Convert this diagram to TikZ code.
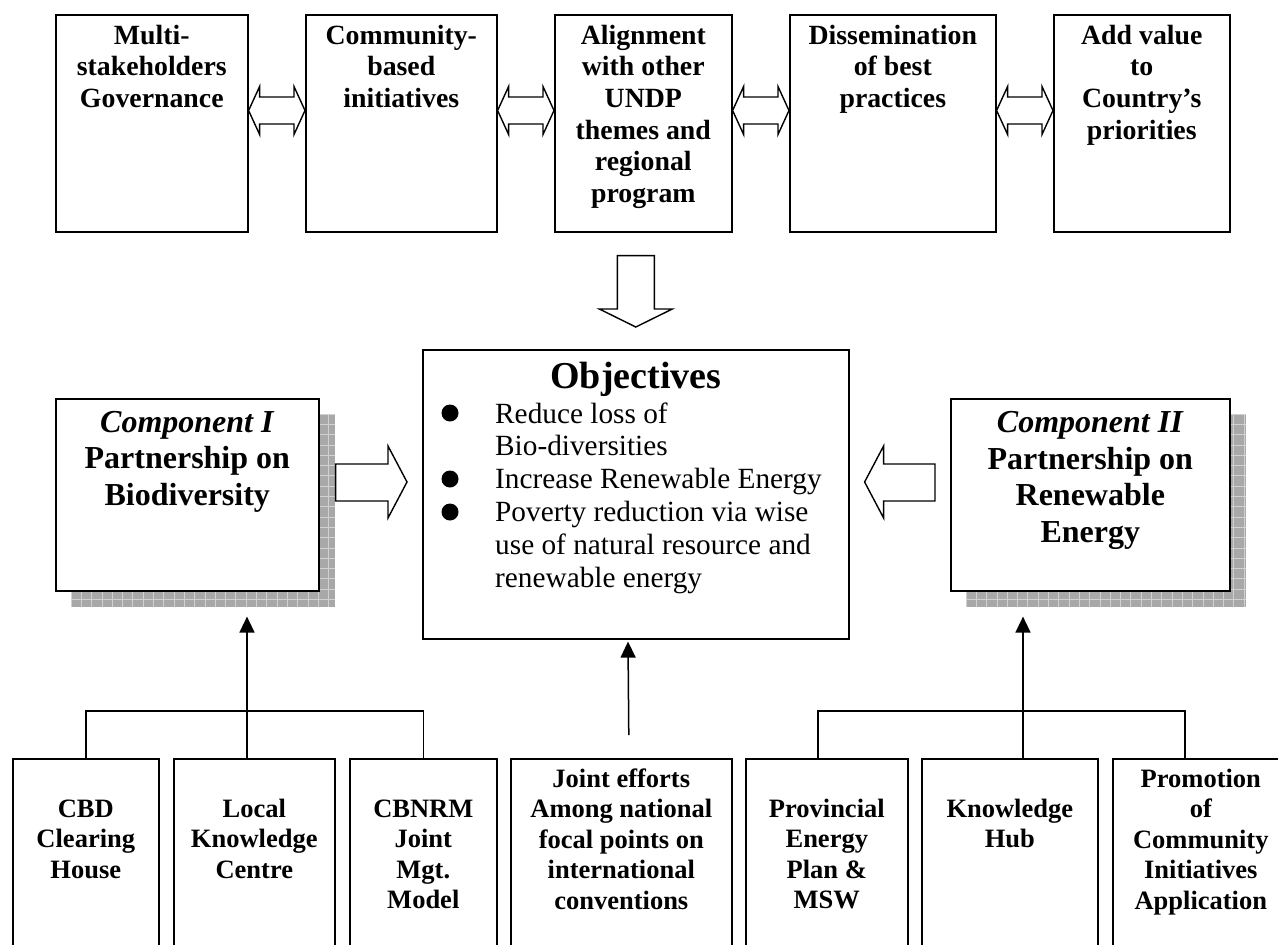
\documentclass[tikz,border=0pt]{standalone}
\usepackage{fontspec}
\setmainfont{Liberation Serif}
\usetikzlibrary{arrows.meta,calc}

% hatched grey drop shadow: #1,#2 = top-left corner, #3,#4 = bottom-right corner
\newcommand\gridshadow[4]{%
  \begin{scope}
    \clip (#1,#2) rectangle (#3,#4);
    \fill[shadefill] (#1,#2) rectangle (#3,#4);
    \foreach \k in {0,...,30} {\draw[shadegrid] (#1+\k*10.3,#2) -- (#1+\k*10.3,#4);}
    \foreach \k in {0,...,20} {\draw[shadegrid] (#1,#2+\k*10.3) -- (#3,#2+\k*10.3);}
  \end{scope}}

% hollow two-headed block arrow between two boxes at height #3
\newcommand\twoway[3]{%
  \draw[blockarrow] let \p1=(#1.east), \p2=(#2.west) in
    (\x1,-#3pt) -- (\x1+11pt,-#3pt+24pt) -- (\x1+11pt,-#3pt+13.5pt)
    -- (\x2-11pt,-#3pt+13.5pt) -- (\x2-11pt,-#3pt+24pt) -- (\x2,-#3pt)
    -- (\x2-11pt,-#3pt-24pt) -- (\x2-11pt,-#3pt-13.5pt)
    -- (\x1+11pt,-#3pt-13.5pt) -- (\x1+11pt,-#3pt-24pt) -- cycle;}

\begin{document}
\begin{tikzpicture}[x=1pt,y=-1pt,
  box/.style={draw, line width=1.6pt, fill=white, inner sep=0pt, anchor=north west},
  % labels are placed by the baseline of their last line
  toplbl/.style={inner sep=0pt, anchor=base, align=center,
    font=\bfseries\fontsize{27.8}{31.7}\selectfont},
  complbl/.style={inner sep=0pt, anchor=base, align=center,
    font=\bfseries\fontsize{32}{36.5}\selectfont},
  botlbl/.style={inner sep=0pt, anchor=base, align=center,
    font=\bfseries\fontsize{26.5}{30.5}\selectfont},
  objlist/.style={inner sep=0pt, anchor=base west, align=left,
    font=\fontsize{29.3}{32.8}\selectfont},
  blockarrow/.style={draw, line width=1.4pt, fill=white, line join=miter},
  conn/.style={draw, line width=1.5pt},
  up/.style={conn, -{Triangle[length=16pt,width=15pt]}},
  shadefill/.style={fill=black!34},
  shadegrid/.style={draw=black!18, line width=0.7pt},
]
\useasboundingbox (0,0) rectangle (1278,945);
\clip (0,0) rectangle (1278,945);
\fill[white] (0,0) rectangle (1278,945);

% ---------- top row of guiding principles ----------
\node[box, minimum width=192pt, minimum height=217pt] (t1) at (55,14) {};
\node[box, minimum width=191pt, minimum height=217pt] (t2) at (305,14) {};
\node[box, minimum width=177pt, minimum height=217pt] (t3) at (554,14) {};
\node[box, minimum width=206pt, minimum height=217pt] (t4) at (789,14) {};
\node[box, minimum width=176pt, minimum height=217pt] (t5) at (1053,14) {};

\node[toplbl] (t1l) at (t1.north |- 0,107.4) {Multi-\\stakeholders\\Governance};
\node[toplbl] (t2l) at (t2.north |- 0,107.4) {Community-\\based\\initiatives};
\node[toplbl] (t3l) at (t3.north |- 0,202.5) {Alignment\\with other\\UNDP\\themes and\\regional\\program};
\node[toplbl] (t4l) at (t4.north |- 0,107.4) {Dissemination\\of best\\practices};
\node[toplbl] (t5l) at (t5.north |- 0,139.1) {Add value\\to\\Country’s\\priorities};

\twoway{t1}{t2}{110.5}
\twoway{t2}{t3}{110.5}
\twoway{t3}{t4}{110.5}
\twoway{t4}{t5}{110.5}

% ---------- objectives ----------
\node[box, minimum width=426pt, minimum height=289pt] (obj) at (422,349) {};
\node[inner sep=0pt, anchor=base, font=\bfseries\fontsize{38}{42}\selectfont]
  (objt) at (obj.north |- 0,388) {Objectives};
\fill (450,413) circle (8.5pt);
\fill (450,479) circle (8.5pt);
\fill (450,512) circle (8.5pt);
\node[objlist] (objl) at (495,587) {Reduce loss of\\Bio-diversities\\Increase Renewable Energy\\Poverty reduction via wise\\use of natural resource and\\renewable energy};

% down arrow from the principles to the objectives
\draw[blockarrow] let \p1=(t3.south), \p2=(obj.north) in
  (\x2-18.5pt,\y1-23pt) -- (\x2-18.5pt,\y2+40pt) -- (\x2-36.5pt,\y2+40pt)
  -- (\x2,\y2+22pt) -- (\x2+36.5pt,\y2+40pt) -- (\x2+18.5pt,\y2+40pt)
  -- (\x2+18.5pt,\y1-23pt) -- cycle;

% ---------- the two components ----------
\gridshadow{71}{414}{335}{607}
\gridshadow{966}{414}{1246}{607}
\node[box, minimum width=263pt, minimum height=192pt] (c1) at (55,398) {};
\node[box, minimum width=279pt, minimum height=192pt] (c2) at (950,398) {};
\node[complbl] (c1l) at (c1.north |- 0,505) {\textit{Component I}\\Partnership on\\Biodiversity};
\node[complbl] (c2l) at (c2.north |- 0,542) {\textit{Component II}\\Partnership on\\Renewable\\Energy};

\draw[blockarrow] let \p1=(c1.east), \p2=(obj.west) in
  (\x1+16pt,-464pt) -- (\x2-34pt,-464pt) -- (\x2-34pt,-446pt) -- (\x2-15pt,-482pt)
  -- (\x2-34pt,-518pt) -- (\x2-34pt,-501pt) -- (\x1+16pt,-501pt) -- cycle;
\draw[blockarrow] let \p1=(c2.west), \p2=(obj.east) in
  (\x1-15pt,-464pt) -- (\x2+34pt,-464pt) -- (\x2+34pt,-446pt) -- (\x2+15pt,-482pt)
  -- (\x2+34pt,-518pt) -- (\x2+34pt,-501pt) -- (\x1-15pt,-501pt) -- cycle;

% ---------- bottom row of activities ----------
\node[box, minimum width=146pt, minimum height=200pt] (b1) at (12,758) {};
\node[box, minimum width=161pt, minimum height=200pt] (b2) at (173,758) {};
\node[box, minimum width=147pt, minimum height=200pt] (b3) at (349,758) {};
\node[box, minimum width=221pt, minimum height=200pt] (b4) at (510,758) {};
\node[box, minimum width=162pt, minimum height=200pt] (b5) at (745,758) {};
\node[box, minimum width=176pt, minimum height=200pt] (b6) at (921,758) {};
\node[box, minimum width=176pt, minimum height=200pt] (b7) at (1112,758) {};

\node[botlbl] (b1l) at (b1.north |- 0,878) {CBD\\Clearing\\House};
\node[botlbl] (b2l) at (b2.north |- 0,878) {Local\\Knowledge\\Centre};
\node[botlbl] (b3l) at (b3.north |- 0,908.5) {CBNRM\\Joint\\Mgt.\\Model};
\node[botlbl] (b4l) at (b4.north |- 0,909) {Joint efforts\\Among national\\focal points on\\international\\conventions};
\node[botlbl] (b5l) at (b5.north |- 0,908.5) {Provincial\\Energy\\Plan \&\\MSW};
\node[botlbl] (b6l) at (b6.north |- 0,847.5) {Knowledge\\Hub};
\node[botlbl] (b7l) at (b7.north |- 0,909) {Promotion\\of\\Community\\Initiatives\\Application};

% ---------- connectors ----------
\draw[conn] (b1.north) -- (b1.north |- 0,711) -| (b3.north);
\draw[up] (b2.north -| 247,0) -- ($(c1.south -| 247,0)+(0,25)$);
\draw[conn] (b5.north -| 818,0) -- (818,711) -| (b7.north -| 1185,0);
\draw[up] (b6.north -| 1023,0) -- ($(c2.south -| 1023,0)+(0,25)$);
\draw[up] ($(b4.north)+(7.5,-23)$) -- ($(obj.south -| 628,0)+(0,2)$);
\end{tikzpicture}
\end{document}
